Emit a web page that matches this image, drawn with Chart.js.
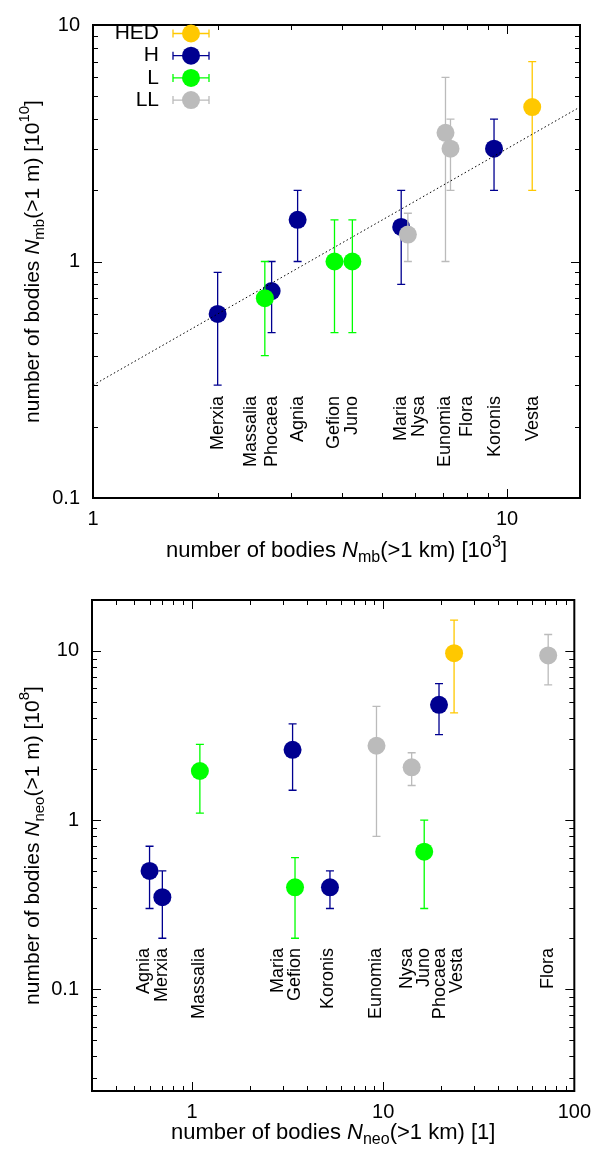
<!DOCTYPE html>
<html>
<head>
<meta charset="utf-8">
<script src="https://cdn.jsdelivr.net/npm/chart.js@4.4.1/dist/chart.umd.min.js"></script>
<style>
  body { margin: 0; background: #fff; }
  canvas { display: block; }
</style>
</head>
<body>
<canvas id="mb" width="600" height="575"></canvas>
<canvas id="neo" width="600" height="575"></canvas>
<script>
// taxonomic classes, in legend order
const classNames = ["HED", "H", "L", "LL"];

// main belt: N(>1 km) [10^3] vs N(>1 m) [10^10]
const mbNames = ["Merxia", "Massalia", "Phocaea", "Agnia", "Gefion", "Juno", "Maria", "Nysa", "Eunomia", "Flora", "Koronis", "Vesta"];
const mbClass = ["H", "L", "H", "H", "L", "L", "H", "LL", "LL", "LL", "H", "HED"];
const mbX = [2.0, 2.60, 2.70, 3.12, 3.83, 4.23, 5.55, 5.76, 7.10, 7.30, 9.3, 11.5];
const mbY = [0.6, 0.7, 0.75, 1.5, 1.0, 1.0, 1.4, 1.3, 3.5, 3.0, 3.0, 4.5];
const mbLo = [0.3, 0.4, 0.5, 1.0, 0.5, 0.5, 0.8, 1.0, 1.0, 2.0, 2.0, 2.0];
const mbHi = [0.9, 1.0, 1.0, 2.0, 1.5, 1.5, 2.0, 1.6, 6.0, 4.0, 4.0, 7.0];
const mbLabelX = [2.0, 2.41, 2.70, 3.12, 3.83, 4.23, 5.55, 6.13, 7.10, 8.01, 9.33, 11.56];
const mbFitX = [1, 15];
const mbFitY = [0.3, 4.5];
const mbXTicks = [1, 10];
const mbYTicks = [0.1, 1, 10];

// near-Earth objects: N(>1 km) [1] vs N(>1 m) [10^8]
const neoNames = ["Agnia", "Merxia", "Massalia", "Maria", "Gefion", "Koronis", "Eunomia", "Nysa", "Juno", "Phocaea", "Vesta", "Flora"];
const neoClass = ["H", "H", "L", "H", "L", "H", "LL", "LL", "L", "H", "HED", "LL"];
const neoX = [0.60, 0.70, 1.10, 3.36, 3.46, 5.27, 9.23, 14.1, 16.4, 19.6, 23.5, 73];
const neoY = [0.5, 0.35, 1.95, 2.6, 0.4, 0.4, 2.75, 2.05, 0.65, 4.8, 9.7, 9.4];
const neoLo = [0.3, 0.2, 1.1, 1.5, 0.2, 0.3, 0.8, 1.6, 0.3, 3.2, 4.3, 6.3];
const neoHi = [0.7, 0.5, 2.8, 3.7, 0.6, 0.5, 4.7, 2.5, 1.0, 6.4, 15.2, 12.5];
const neoLabelX = [0.564, 0.697, 1.087, 2.82, 3.47, 5.17, 9.23, 13.4, 16.4, 19.8, 24.4, 73];
const neoXTicks = [1, 10, 100];
const neoYTicks = [0.1, 1, 10];

const COLORS = { HED: "#ffc800", H: "#000090", L: "#00ff00", LL: "#bbbbbb" };
const FONT = '"Liberation Sans", Arial, sans-serif';

function drawRich(ctx, parts, cx, cy, size, vertical) {
  const fontFor = (p) => `${p.it ? "italic " : ""}${p.sub || p.sup ? Math.round(size * 0.72) : size}px ${FONT}`;
  ctx.save();
  ctx.translate(cx, cy);
  if (vertical) ctx.rotate(-Math.PI / 2);
  let total = 0;
  parts.forEach((p) => { ctx.font = fontFor(p); total += ctx.measureText(p.t).width; });
  let x = -total / 2;
  ctx.textAlign = "left";
  ctx.textBaseline = "middle";
  ctx.fillStyle = "#000";
  parts.forEach((p) => {
    ctx.font = fontFor(p);
    const dy = p.sub ? size * 0.32 : p.sup ? -size * 0.38 : 0;
    ctx.fillText(p.t, x, dy);
    x += ctx.measureText(p.t).width;
  });
  ctx.restore();
}

function minorTicks(min, max) {
  const out = [];
  for (let d = Math.floor(Math.log10(min)); d <= Math.ceil(Math.log10(max)); d++) {
    for (let m = 2; m <= 9; m++) {
      const v = m * Math.pow(10, d);
      if (v > min * 1.001 && v < max * 0.999) out.push(v);
    }
  }
  return out;
}

const framePlugin = {
  id: "frame",
  beforeDatasetDraw(chart, args) {
    const ds = chart.data.datasets[args.index];
    if (!ds.errorBars) return;
    const ctx = chart.ctx;
    const xs = chart.scales.x, ys = chart.scales.y;
    ctx.save();
    ctx.strokeStyle = ds.backgroundColor;
    ctx.lineWidth = 1.3;
    ds.data.forEach((p) => {
      const px = xs.getPixelForValue(p.x);
      const top = ys.getPixelForValue(p.hi);
      const bot = ys.getPixelForValue(p.lo);
      ctx.beginPath();
      ctx.moveTo(px, top); ctx.lineTo(px, bot);
      ctx.moveTo(px - 4, top); ctx.lineTo(px + 4, top);
      ctx.moveTo(px - 4, bot); ctx.lineTo(px + 4, bot);
      ctx.stroke();
    });
    ctx.restore();
  },
  afterDraw(chart, args, o) {
    const ctx = chart.ctx;
    const a = chart.chartArea;
    const xs = chart.scales.x, ys = chart.scales.y;

    // inward ticks on all four sides
    ctx.save();
    ctx.strokeStyle = "#000";
    ctx.lineWidth = 1;
    ctx.beginPath();
    const xt = (v, len) => {
      const px = Math.round(xs.getPixelForValue(v)) + 0.5;
      ctx.moveTo(px, a.bottom); ctx.lineTo(px, a.bottom - len);
      ctx.moveTo(px, a.top); ctx.lineTo(px, a.top + len);
    };
    const yt = (v, len) => {
      const py = Math.round(ys.getPixelForValue(v)) + 0.5;
      ctx.moveTo(a.left, py); ctx.lineTo(a.left + len, py);
      ctx.moveTo(a.right, py); ctx.lineTo(a.right - len, py);
    };
    o.xTicks.forEach((v) => xt(v, 9));
    o.yTicks.forEach((v) => yt(v, 9));
    minorTicks(xs.min, xs.max).forEach((v) => xt(v, 5));
    minorTicks(ys.min, ys.max).forEach((v) => yt(v, 5));
    ctx.stroke();
    ctx.lineWidth = 2;
    ctx.strokeRect(a.left, a.top, a.right - a.left, a.bottom - a.top);
    ctx.restore();

    // family names, rotated, top-aligned
    ctx.save();
    ctx.fillStyle = "#000";
    ctx.font = `18px ${FONT}`;
    ctx.textAlign = "right";
    ctx.textBaseline = "middle";
    const py = ys.getPixelForValue(o.labelTop);
    o.names.forEach((n, i) => {
      ctx.save();
      ctx.translate(xs.getPixelForValue(o.labelX[i]), py);
      ctx.rotate(-Math.PI / 2);
      ctx.fillText(n, 0, 0);
      ctx.restore();
    });
    ctx.restore();

    // axis titles
    drawRich(ctx, o.xTitle, (a.left + a.right) / 2, o.xTitleY, 22, false);
    drawRich(ctx, o.yTitle, 33, (a.top + a.bottom) / 2, 21, true);

    // key
    if (o.legend) {
      ctx.save();
      ctx.font = `21px ${FONT}`;
      ctx.textAlign = "right";
      ctx.textBaseline = "middle";
      classNames.forEach((c, i) => {
        const y = 33.5 + i * 22.2;
        ctx.fillStyle = "#000";
        ctx.fillText(c, 159, y);
        ctx.strokeStyle = COLORS[c];
        ctx.lineWidth = 1.3;
        ctx.beginPath();
        ctx.moveTo(173, y); ctx.lineTo(209, y);
        ctx.moveTo(173, y - 4); ctx.lineTo(173, y + 4);
        ctx.moveTo(209, y - 4); ctx.lineTo(209, y + 4);
        ctx.stroke();
        ctx.fillStyle = COLORS[c];
        ctx.beginPath();
        ctx.arc(191, y, 9, 0, Math.PI * 2);
        ctx.fill();
      });
      ctx.restore();
    }
  },
};

function classDatasets(cls, xs, ys, lo, hi) {
  return classNames.map((c, k) => ({
    label: c,
    type: "scatter",
    errorBars: true,
    order: 4 - k,
    data: xs.map((x, i) => ({ x, y: ys[i], lo: lo[i], hi: hi[i], c: cls[i] })).filter((p) => p.c === c),
    backgroundColor: COLORS[c],
    borderWidth: 0,
    pointRadius: 9,
    pointHoverRadius: 9,
  }));
}

function axis(min, max, ticks, fixed, pad, vertical) {
  return {
    type: "logarithmic",
    min,
    max,
    grid: { display: false, drawTicks: false },
    border: { display: false },
    afterBuildTicks: (s) => { s.ticks = ticks.map((v) => ({ value: v })); },
    afterFit: (s) => { if (vertical) s.width = fixed; else s.height = fixed; },
    ticks: {
      autoSkip: false,
      maxRotation: 0,
      padding: pad,
      color: "#000",
      font: { family: FONT, size: 20 },
      callback: (v) => String(v),
    },
  };
}

function makeChart(id, cfg) {
  return new Chart(document.getElementById(id), {
    type: "scatter",
    data: { datasets: cfg.datasets },
    options: {
      responsive: false,
      animation: false,
      devicePixelRatio: 1,
      layout: { padding: { top: cfg.padTop, right: 20, left: 0, bottom: 0 } },
      scales: {
        x: axis(cfg.xMin, cfg.xMax, cfg.xTicks, cfg.xHeight, 9, false),
        y: axis(cfg.yMin, cfg.yMax, cfg.yTicks, cfg.yWidth, 13, true),
      },
      plugins: {
        legend: { display: false },
        tooltip: { enabled: false },
        frame: cfg.frame,
      },
    },
    plugins: [framePlugin],
  });
}

makeChart("mb", {
  padTop: 14, xHeight: 77, yWidth: 93,
  xMin: 1, xMax: 15, yMin: 0.1, yMax: 10,
  xTicks: mbXTicks, yTicks: mbYTicks,
  datasets: [
    {
      type: "line",
      data: mbFitX.map((x, i) => ({ x, y: mbFitY[i] })),
      borderColor: "#000",
      borderWidth: 1,
      borderDash: [1.5, 2.5],
      pointRadius: 0,
      fill: false,
      order: 0,
    },
    ...classDatasets(mbClass, mbX, mbY, mbLo, mbHi),
  ],
  frame: {
    names: mbNames, labelX: mbLabelX, labelTop: 0.27,
    xTicks: mbXTicks, yTicks: mbYTicks, legend: true, xTitleY: 551,
    xTitle: [{ t: "number of bodies " }, { t: "N", it: 1 }, { t: "mb", sub: 1 }, { t: "(>1 km) [10" }, { t: "3", sup: 1 }, { t: "]" }],
    yTitle: [{ t: "number of bodies " }, { t: "N", it: 1 }, { t: "mb", sub: 1 }, { t: "(>1 m) [10" }, { t: "10", sup: 1 }, { t: "]" }],
  },
});

makeChart("neo", {
  padTop: 20, xHeight: 59, yWidth: 92,
  xMin: 0.3, xMax: 100, yMin: 0.025, yMax: 20,
  xTicks: neoXTicks, yTicks: neoYTicks,
  datasets: classDatasets(neoClass, neoX, neoY, neoLo, neoHi),
  frame: {
    names: neoNames, labelX: neoLabelX, labelTop: 0.175,
    xTicks: neoXTicks, yTicks: neoYTicks, legend: false, xTitleY: 558,
    xTitle: [{ t: "number of bodies " }, { t: "N", it: 1 }, { t: "neo", sub: 1 }, { t: "(>1 km) [1]" }],
    yTitle: [{ t: "number of bodies " }, { t: "N", it: 1 }, { t: "neo", sub: 1 }, { t: "(>1 m) [10" }, { t: "8", sup: 1 }, { t: "]" }],
  },
});
</script>
</body>
</html>
